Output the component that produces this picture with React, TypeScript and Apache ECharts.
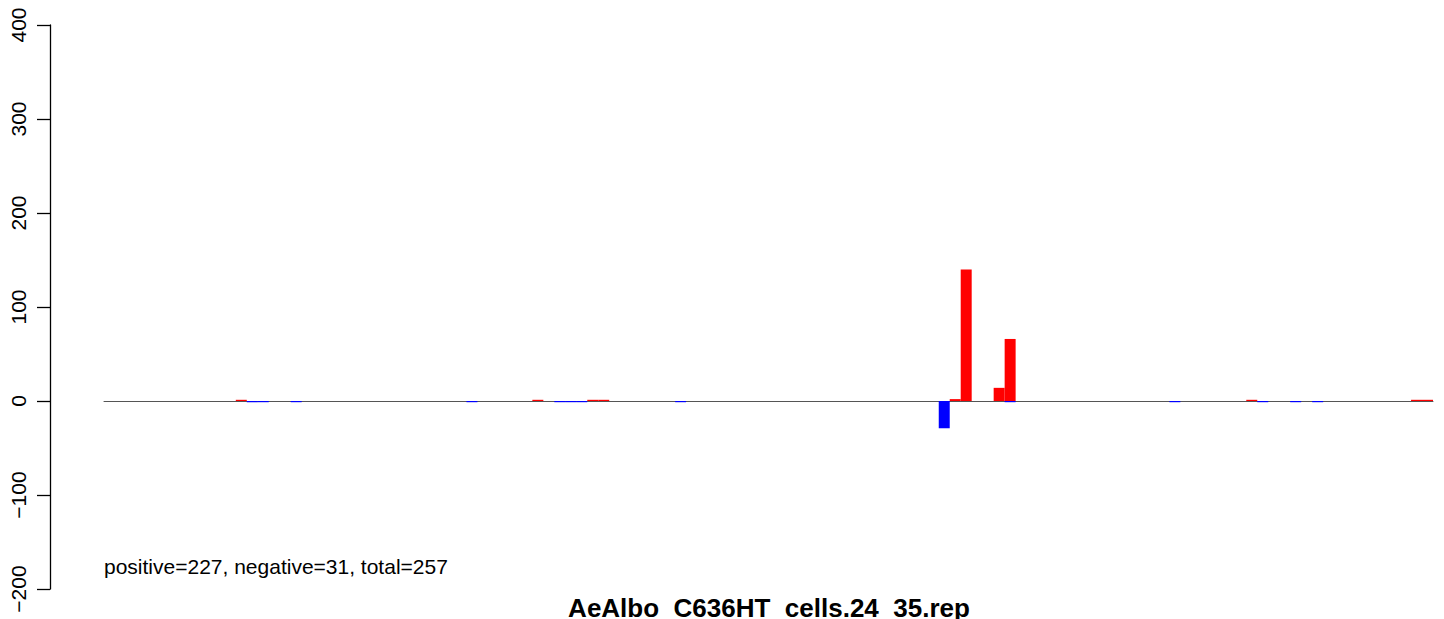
import React, { useEffect, useRef } from "react";
import * as echarts from "echarts";

const N_BARS = 121;
const categories: string[] = Array.from({ length: N_BARS }, (_, i) => String(i + 1));

// positive (red) values by bar index
const positiveIdx: number[] = [12, 39, 44, 45, 77, 78, 81, 82, 104, 119, 120];
const positiveVal: number[] = [0.3, 0.3, 0.3, 0.3, 2, 140, 14, 66, 0.3, 0.3, 0.3];

// negative (blue) values by bar index
const negativeIdx: number[] = [13, 14, 17, 33, 41, 42, 43, 52, 76, 82, 97, 105, 108, 110];
const negativeVal: number[] = [-0.2, -0.2, -0.2, -0.2, -0.2, -0.2, -0.2, -0.2, -29, -0.2, -0.2, -0.2, -0.2, -0.2];

const yTicks: number[] = [-200, -100, 0, 100, 200, 300, 400];

const summaryText = "positive=227, negative=31, total=257";
const titleText = "AeAlbo_C636HT_cells.24_35.rep";

function toSeries(idx: number[], vals: number[]): (number | null)[] {
  const arr: (number | null)[] = Array.from({ length: N_BARS }, () => null);
  idx.forEach((k, j) => {
    arr[k] = vals[j];
  });
  return arr;
}

const FONT = "'Liberation Sans', Arial, Helvetica, sans-serif";

export default function App() {
  const ref = useRef<HTMLDivElement>(null);
  useEffect(() => {
    if (!ref.current) return;
    const chart = echarts.init(ref.current, undefined, { renderer: "svg" });
    chart.setOption({
      animation: false,
      backgroundColor: "#ffffff",
      grid: { left: 104, right: 11, top: 25, bottom: 30, containLabel: false },
      xAxis: {
        type: "category",
        data: categories,
        boundaryGap: true,
        axisLine: { show: true, onZero: true, lineStyle: { color: "#555555", width: 1 } },
        axisTick: { show: false },
        axisLabel: { show: false },
        splitLine: { show: false },
      },
      yAxis: {
        type: "value",
        min: yTicks[0],
        max: yTicks[yTicks.length - 1],
        interval: 100,
        offset: 54,
        axisLine: { show: true, lineStyle: { color: "#000000", width: 1.3 } },
        axisTick: { show: true, length: 13, lineStyle: { color: "#000000", width: 1.3 } },
        axisLabel: {
          show: true,
          rotate: 90,
          margin: 21,
          fontSize: 21,
          fontFamily: FONT,
          color: "#000000",
          formatter: (v: number) => (v < 0 ? "\u2212" + Math.abs(v) : String(v)),
        },
        splitLine: { show: false },
      },
      series: [
        {
          name: "positive",
          type: "bar",
          data: toSeries(positiveIdx, positiveVal),
          barWidth: "100%",
          barGap: "-100%",
          barMinHeight: 1.2,
          itemStyle: { color: "#ff0000" },
          z: 3,
        },
        {
          name: "negative",
          type: "bar",
          data: toSeries(negativeIdx, negativeVal),
          barWidth: "100%",
          barGap: "-100%",
          barMinHeight: 1.2,
          itemStyle: { color: "#0000ff" },
          z: 2,
        },
      ],
      graphic: [
        {
          type: "text",
          left: 104,
          top: 556,
          style: {
            text: summaryText,
            fontSize: 21,
            fontFamily: FONT,
            fill: "#000000",
          },
        },
        {
          type: "text",
          x: 769,
          y: 608,
          style: {
            text: titleText,
            fontSize: 26,
            fontWeight: "bold",
            fontFamily: FONT,
            fill: "#000000",
            align: "center",
            verticalAlign: "middle",
          },
        },
      ],
    });
    return () => chart.dispose();
  }, []);
  return <div ref={ref} style={{ width: 1444, height: 619, position: "absolute", left: 0, top: 0 }} />;
}
